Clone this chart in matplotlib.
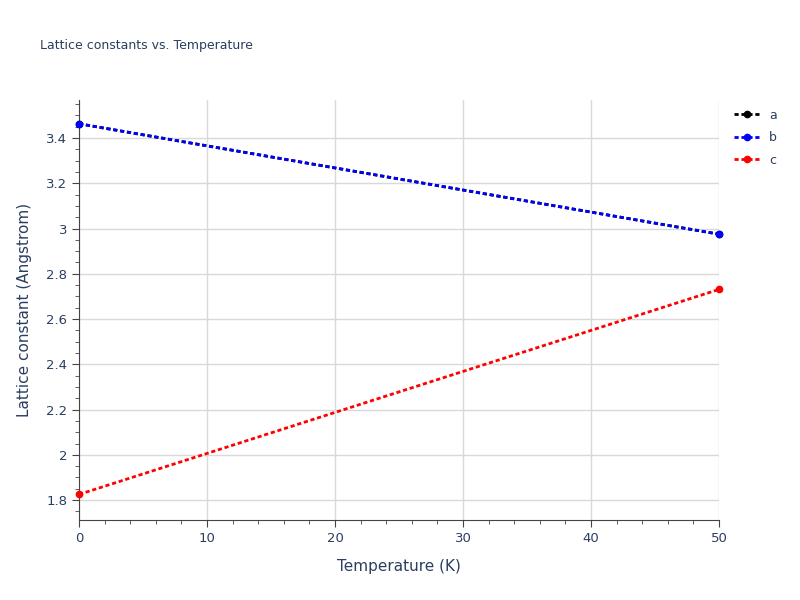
import matplotlib
matplotlib.use("Agg")
import matplotlib.pyplot as plt
from matplotlib.ticker import MultipleLocator

temps = [0, 50]
a_vals = [3.463, 2.975]
b_vals = [3.463, 2.975]
c_vals = [1.825, 2.731]
names = ["a", "b", "c"]
colors = ["black", "blue", "red"]

fig = plt.figure(figsize=(8, 6), dpi=100)
ax = fig.add_axes([79/800, 80/600, 640/800, 420/600])
for vals, n, c in zip([a_vals, b_vals, c_vals], names, colors):
    ax.plot(temps, vals, linestyle=(0, (1.5, 1)), color=c, lw=2, marker="o", ms=4.5,
            label=n, clip_on=False, zorder=3)
ax.set_xlim(0, 50)
ax.set_ylim(1.712, 3.568)
ax.xaxis.set_major_locator(MultipleLocator(10))
ax.xaxis.set_minor_locator(MultipleLocator(2))
ax.yaxis.set_minor_locator(MultipleLocator(0.05))
ax.set_yticks([1.8,2,2.2,2.4,2.6,2.8,3,3.2,3.4])
ax.set_yticklabels(["1.8","2","2.2","2.4","2.6","2.8","3","3.2","3.4"])
ax.grid(True, which="major", color="#d9d9d9", lw=1)
ax.set_axisbelow(True)
for s in ["top", "right"]:
    ax.spines[s].set_visible(False)
for s in ["left", "bottom"]:
    ax.spines[s].set_color("#444444")
ax.tick_params(which="both", direction="out", colors="#444444", labelcolor="#2a3f5f", labelsize=9.5)
ax.tick_params(which="major", length=5)
ax.tick_params(which="minor", length=3)
ax.set_xlabel("Temperature (K)", color="#2a3f5f", fontsize=11, labelpad=10)
ax.set_ylabel("Lattice constant (Angstrom)", color="#2a3f5f", fontsize=11, labelpad=10)
fig.text(40/800, 1-45/600, "Lattice constants vs. Temperature", fontsize=9,
         color="#2a3f5f", va="center")
leg = ax.legend(loc="upper left", bbox_to_anchor=(1.01, 1.0), frameon=False,
                fontsize=9, handlelength=2, labelcolor="#2a3f5f", borderaxespad=0.3,
                labelspacing=0.75)
fig.savefig("out.png", dpi=100)
